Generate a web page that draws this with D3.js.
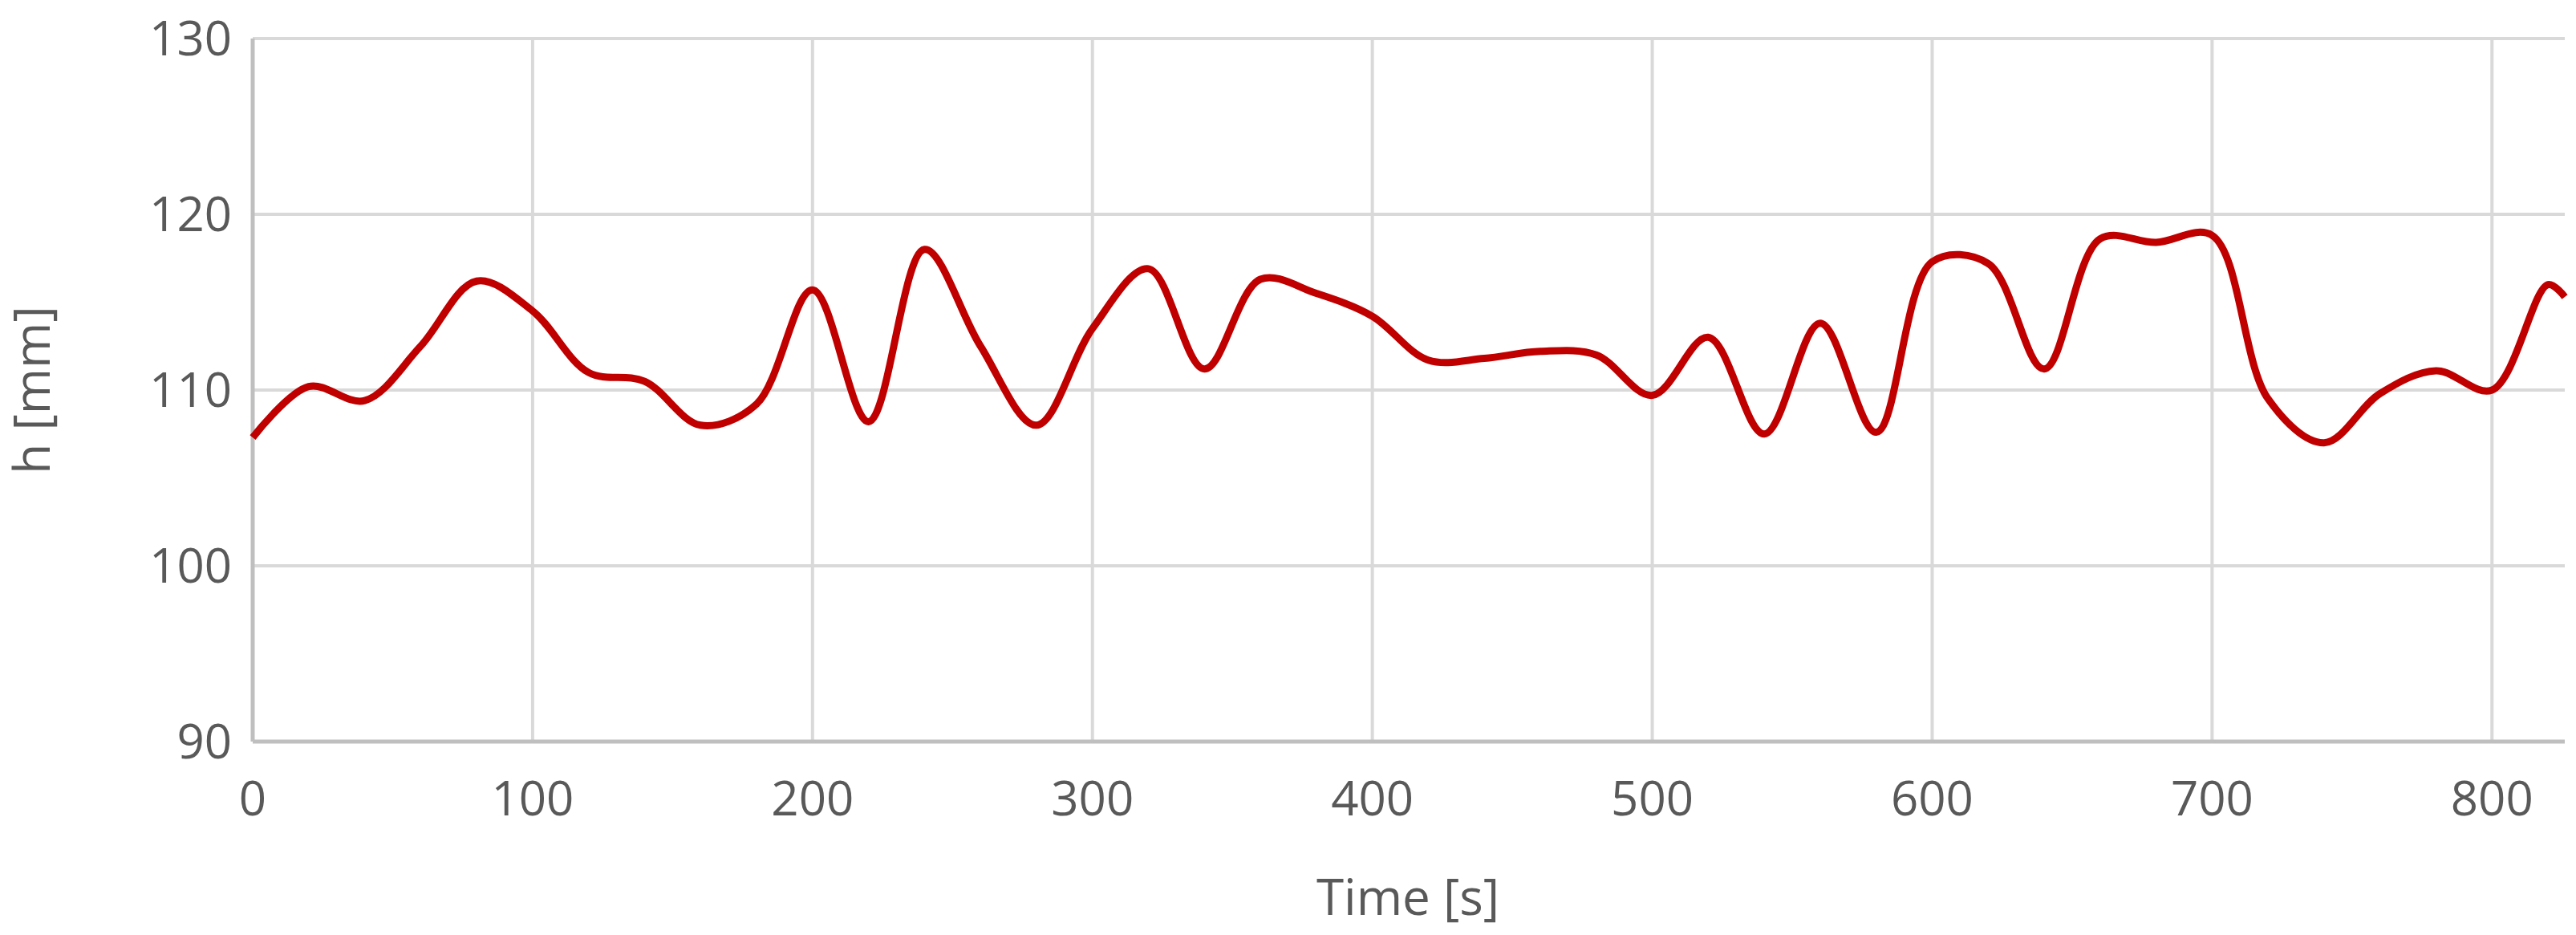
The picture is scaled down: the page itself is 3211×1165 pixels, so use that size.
<!DOCTYPE html>
<html><head><meta charset="utf-8">
<script src="https://cdn.jsdelivr.net/npm/d3@7"></script>
<style>body{margin:0;background:#fff}text{font-family:"Open Sans","Liberation Sans",sans-serif;fill:#595959}</style>
</head><body><svg id="chart"></svg>
<script>
var times = [0,20,40,60,80,100,120,140,160,180,200,220,240,260,280,300,320,340,360,380,400,420,440,460,480,500,520,540,560,580,600,620,640,660,680,700,720,740,760,780,800,820,826];
var heights = [107.3,110.2,109.4,112.5,116.2,114.5,111,110.5,108,109.2,115.7,108.2,118,112.5,108,113.5,116.9,111.2,116.3,115.5,114.2,111.7,111.8,112.2,112,109.7,113,107.5,113.8,107.6,117.3,117.2,111.2,118.6,118.4,118.8,109.5,107,109.8,111.1,110,116,115.3];
var xTicks = [0,100,200,300,400,500,600,700,800];
var yTicks = [90,100,110,120,130];

var width = 3211, height = 1165;
var padLeft = 315, padRight = 3197, padTop = 48, padBottom = 924;

var svg = d3.select("#chart").attr("width", width).attr("height", height);
var x = d3.scaleLinear().domain([0, 826]).range([padLeft, padRight]);
var y = d3.scaleLinear().domain([90, 130]).range([padBottom, padTop]);

// grid
svg.selectAll(".hg").data(yTicks.slice(1)).enter().append("line")
    .attr("x1", padLeft).attr("x2", padRight)
    .attr("y1", y).attr("y2", y)
    .attr("stroke", "#d9d9d9").attr("stroke-width", 4);
svg.selectAll(".vg").data(xTicks.slice(1)).enter().append("line")
    .attr("x1", x).attr("x2", x)
    .attr("y1", padTop).attr("y2", padBottom)
    .attr("stroke", "#d9d9d9").attr("stroke-width", 4);
// axis lines
svg.append("line").attr("x1", padLeft).attr("x2", padLeft).attr("y1", padTop).attr("y2", padBottom)
    .attr("stroke", "#bfbfbf").attr("stroke-width", 5);
svg.append("line").attr("x1", padLeft).attr("x2", padRight).attr("y1", padBottom).attr("y2", padBottom)
    .attr("stroke", "#bfbfbf").attr("stroke-width", 5);

// tick labels
svg.selectAll(".yt").data(yTicks).enter().append("text")
    .attr("x", padLeft - 26).attr("y", y).attr("dy", "0.35em")
    .attr("text-anchor", "end").attr("font-size", 60)
    .text(function(d) { return d; });
svg.selectAll(".xt").data(xTicks).enter().append("text")
    .attr("x", x).attr("y", padBottom + 92)
    .attr("text-anchor", "middle").attr("font-size", 60)
    .text(function(d) { return d; });

svg.append("text").attr("x", 1755).attr("y", 1140).attr("text-anchor", "middle")
    .attr("font-size", 62).text("Time [s]");
svg.append("text").attr("transform", "translate(62," + ((padTop + padBottom) / 2) + ") rotate(-90)")
    .attr("text-anchor", "middle").attr("font-size", 62).text("h [mm]");

var line = d3.line()
    .x(function(d, i) { return x(times[i]); })
    .y(function(d) { return y(d); })
    .curve(d3.curveCatmullRom.alpha(0.5));
svg.append("path").datum(heights).attr("d", line)
    .attr("fill", "none").attr("stroke", "#c00000").attr("stroke-width", 9)
    .attr("stroke-linejoin", "round");
</script></body></html>
